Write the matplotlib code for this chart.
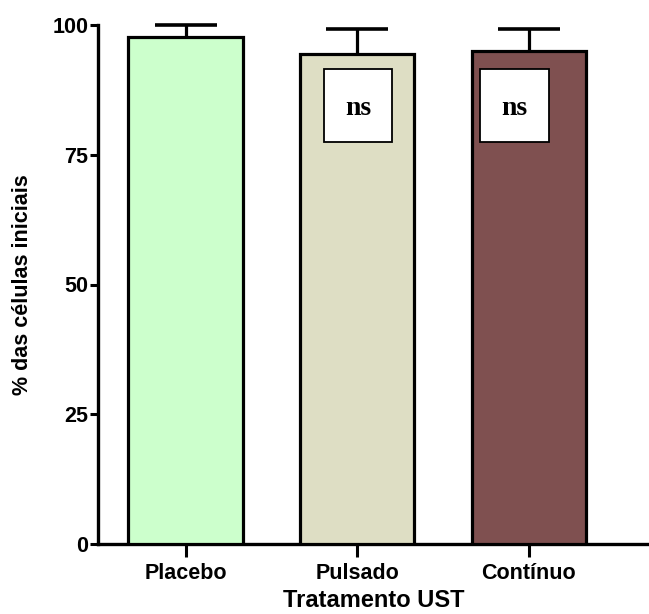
import matplotlib
matplotlib.use("Agg")
import matplotlib.pyplot as plt
from matplotlib.patches import Rectangle

categories = ["Placebo", "Pulsado", "Contínuo"]
values = [97.6, 94.5, 94.9]
errors = [2.4, 4.7, 4.3]
colors = ["#CCFFCC", "#DEDEC4", "#7F5050"]
yticks = [0, 25, 50, 75, 100]
ns_labels = ["", "ns", "ns"]

plt.rcParams['font.family'] = ['Liberation Sans', 'DejaVu Sans']

fig = plt.figure(figsize=(6.49, 6.14), dpi=100)
ax = fig.add_axes([98/649, 70/614, 1 - 98/649, (544-25)/614])

x = list(range(len(categories)))
ax.bar(x, values, width=0.666, color=colors, edgecolor="black", linewidth=2.3, zorder=3)
eb = ax.errorbar(x, values, yerr=[[0]*3, errors], fmt="none", ecolor="black",
                 elinewidth=2.3, capsize=22, capthick=2.6, zorder=2, clip_on=False)
# hide the lower caps (one-sided error bars)
caplines = eb[1]
if len(caplines) >= 2:
    caplines[0].set_visible(False)

# ns boxes
box_centers = [None, 1.005, 1.915]
for xc, lab in zip(box_centers, ns_labels):
    if not lab:
        continue
    ax.add_patch(Rectangle((xc - 0.2, 77.5), 0.4, 14.0, facecolor="white",
                           edgecolor="black", linewidth=1.3, zorder=4))
    ax.text(xc, 84.0, lab, ha="center", va="center", fontsize=20,
            fontweight="bold", family=["Liberation Serif"], zorder=5)

ax.set_xlim(-0.51, 2.70)
ax.set_ylim(0, 100)
ax.set_xticks(x)
ax.set_xticklabels(categories, fontsize=15.5, fontweight="bold")
ax.set_yticks(yticks)
ax.set_yticklabels([str(t) for t in yticks], fontsize=15.5, fontweight="bold")
ax.tick_params(axis="y", length=6, width=2.2, pad=1)
ax.tick_params(axis="x", length=9, width=2.2, pad=5)
for s in ["top", "right"]:
    ax.spines[s].set_visible(False)
for s in ["left", "bottom"]:
    ax.spines[s].set_linewidth(2.4)
ax.set_xlabel("Tratamento UST", fontsize=17, fontweight="bold", labelpad=3.5)
ax.set_ylabel("% das células iniciais", fontsize=15.5, fontweight="bold", labelpad=14)

fig.savefig("out.png", dpi=100)
